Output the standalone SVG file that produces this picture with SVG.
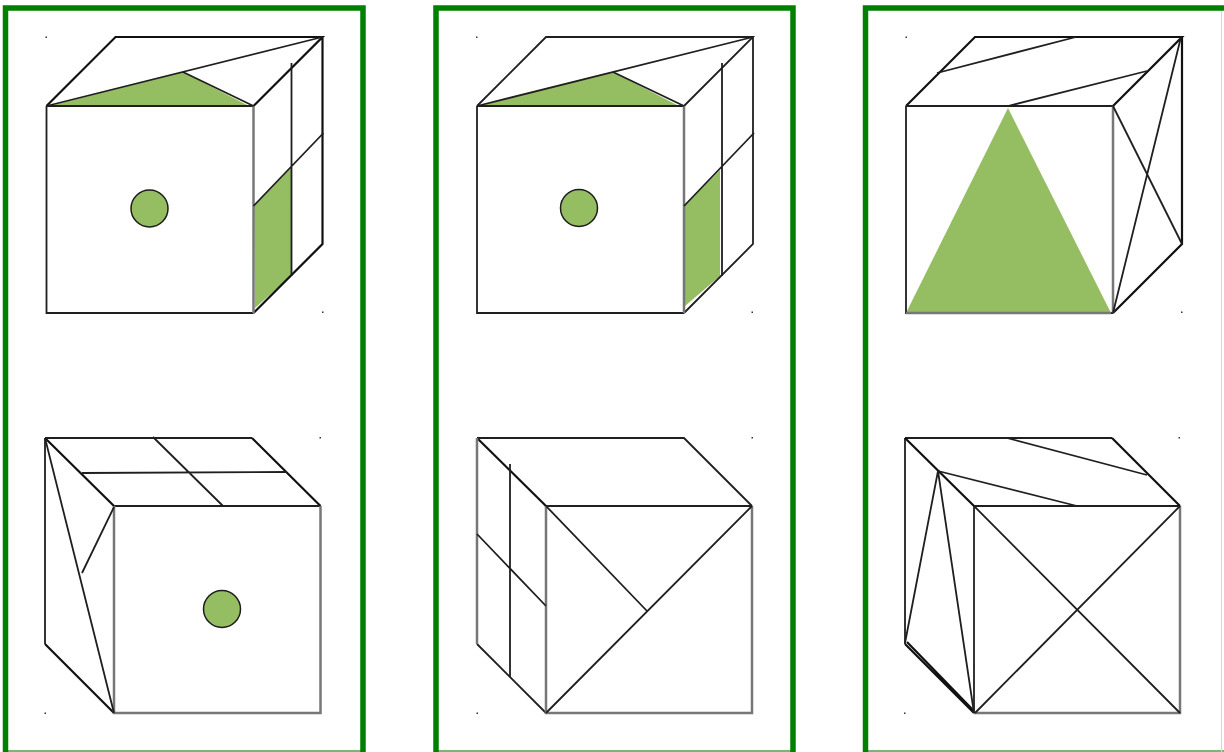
<svg xmlns="http://www.w3.org/2000/svg" width="1224" height="752" viewBox="0 0 1224 752">
<style>
.f{fill:none;stroke:#008000;stroke-width:5.500}
.b{fill:none;stroke:#4d9f4d;stroke-width:1.500}
.e{fill:none;stroke:#d5d5d5;stroke-width:1}
.l{fill:none;stroke:#1f1f1f;stroke-width:1.800}
.t{fill:none;stroke:#111;stroke-width:2.200}
.g{fill:none;stroke:#777;stroke-width:2.500}
.a{fill:#95bd62;stroke:none}
.c{fill:#95bd62;stroke:#1c1c1c;stroke-width:1.500}
.d{fill:#333;stroke:none}
</style>
<defs>
<path id="top" d="M46.500 106L115.500 37H322.500L253.500 106M322.500 37V244L253.500 313"/>
<path id="front" d="M46.500 106H253.500M46.500 106V313H253.500"/>
</defs>
<rect width="1224" height="752" fill="#fff"/>
<g id="frames">
<path class="b" d="M5.500 751H363M436 751H793M865.500 751H1224"/>
<path class="e" d="M1221.500 11V752"/>
<path class="f" d="M5.500 752V8H363V752"/>
<path class="f" d="M436 752V8H793V752"/>
<path class="f" d="M865.500 752V8H1224"/>
</g>
<g id="cube-a1">
<path class="a" d="M49 106L183 72L249 106Z"/>
<path class="a" d="M254 206L291 168V276L255 308Z"/>
<circle class="c" cx="149.500" cy="208.500" r="18.500"/>
<use href="#top" class="t"/><use href="#front" class="l"/>
<path class="g" d="M253.500 106V313"/>
<path class="l" d="M46.500 106L322.500 37M183 72L253.500 106M291.500 63V276M253.500 206L323.500 133"/>
<rect class="d" x="45.500" y="36.500" width="1.500" height="1.500"/><rect class="d" x="322" y="311.500" width="1.500" height="1.500"/>
</g>
<g id="cube-a2">
<path class="t" d="M252 438L320.500 506M45 438L114 506M45 644L114 713"/>
<path class="l" d="M45 438H252M114 506H320.500M45 438V644"/>
<path class="g" d="M114 506V713H320.500V506"/>
<path class="l" d="M45 438L114 713M114 507L82 573M82 473L287 472M153 437L223 506"/>
<circle class="c" cx="222" cy="609" r="18.500"/>
<rect class="d" x="319.500" y="437" width="1.500" height="1.500"/><rect class="d" x="44.500" y="712.500" width="1.500" height="1.500"/>
</g>
<g id="cube-b1">
<path class="a" d="M479 106L613 72L679 106Z"/>
<path class="a" d="M684 206L720 170V276L685 306Z"/>
<circle class="c" cx="579" cy="208" r="18.500"/>
<g transform="translate(430.500 0)"><use href="#top" class="l"/><use href="#front" class="l"/></g>
<path class="g" d="M684 106V313"/>
<path class="l" d="M477 106L753 37M613 72L684 106M722 63V276M684 206L754 133"/>
<rect class="d" x="476" y="36.500" width="1.500" height="1.500"/><rect class="d" x="751.500" y="311.500" width="1.500" height="1.500"/>
</g>
<g id="cube-b2">
<path class="l" d="M477 438H684L752 506M546 506H752M477 644L546 713"/>
<path class="t" d="M477 438L546 506"/>
<path class="g" d="M546 506V713H752V506M477 438V644"/>
<path class="l" d="M510 464V677M477 534L546 606M546 506L647 611M546 713L752 506"/>
<rect class="d" x="751.500" y="437" width="1.500" height="1.500"/><rect class="d" x="476.500" y="712.500" width="1.500" height="1.500"/>
</g>
<g id="cube-c1">
<path class="a" d="M1008 108L906 313H1111Z"/>
<g transform="translate(859.500 0)"><use href="#top" class="t"/><use href="#front" class="l"/></g>
<path class="g" d="M1113 106V313M906 313H1111"/>
<path class="l" d="M937 73L1076 37M1008 106L1147 71M1113 106L1182 244M1113 313L1181 37"/>
<rect class="d" x="905.500" y="36.500" width="1.500" height="1.500"/><rect class="d" x="1181" y="311.500" width="1.500" height="1.500"/>
</g>
<g id="cube-c2">
<path class="l" d="M905 438H1112M974 506H1180M905 438V644"/>
<path class="t" d="M1112 438L1180 506M905 438L974 506M905 644L974 713M907 642L974 711"/>
<path class="l" d="M974 506V713"/>
<path class="g" d="M974 713H1180V506"/>
<path class="l" d="M1007 438L1147 475M938 471L1077 506M938 471L905 643M938 471L974 713M974 506L1180 713M975 713L1180 506"/>
<rect class="d" x="1178.500" y="437" width="1.500" height="1.500"/><rect class="d" x="904" y="712.500" width="1.500" height="1.500"/>
</g>
</svg>
